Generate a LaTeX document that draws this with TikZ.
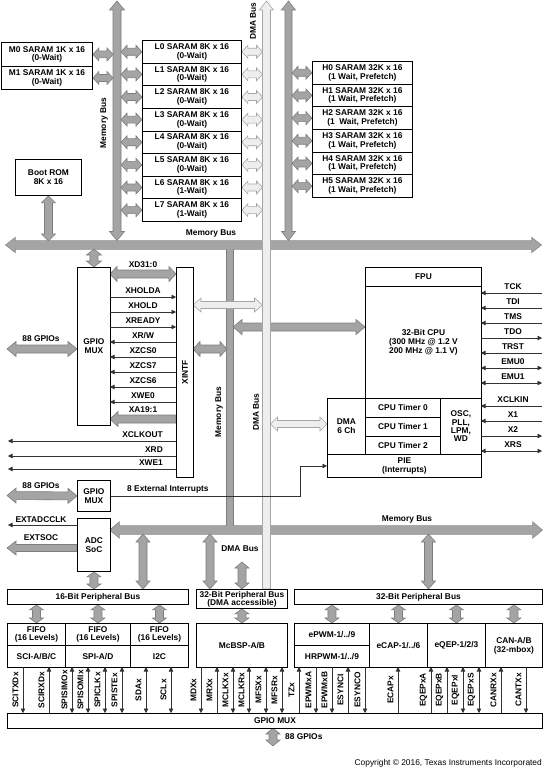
\documentclass[tikz,border=0pt]{standalone}
\usepackage{fontspec}
\setmainfont{Liberation Sans}
\usetikzlibrary{calc,arrows.meta}
\pgfdeclarelayer{back}
\pgfdeclarelayer{bg}
\pgfsetlayers{back,bg,main}
\definecolor{busfill}{HTML}{A4A4A4}
\definecolor{busedge}{HTML}{7E7E7E}
\definecolor{dmafill}{HTML}{EEEEEE}
\definecolor{dmaedge}{HTML}{A6A6A6}
\newcommand\fs{\fontsize{8.4}{8.8}\selectfont\bfseries}
% double-headed bus arrow: options, start, end, shaft half width, head half width, head length
\newcommand\DArrow[6]{%
 \path[#1] let \p1=#2, \p2=#3, \n1={atan2(\y2-\y1,\x2-\x1)} in
 (\p1) -- ($(\p1)+(\n1:#6bp)+(\n1+90:#5bp)$) -- ($(\p1)+(\n1:#6bp)+(\n1+90:#4bp)$)
 -- ($(\p2)+(\n1:-#6bp)+(\n1+90:#4bp)$) -- ($(\p2)+(\n1:-#6bp)+(\n1+90:#5bp)$) -- (\p2)
 -- ($(\p2)+(\n1:-#6bp)+(\n1-90:#5bp)$) -- ($(\p2)+(\n1:-#6bp)+(\n1-90:#4bp)$)
 -- ($(\p1)+(\n1:#6bp)+(\n1-90:#4bp)$) -- ($(\p1)+(\n1:#6bp)+(\n1-90:#5bp)$) -- cycle;}
% single-headed bus arrow (head at end)
\newcommand\SArrow[6]{%
 \path[#1] let \p1=#2, \p2=#3, \n1={atan2(\y2-\y1,\x2-\x1)} in
 ($(\p1)+(\n1+90:#4bp)$) -- ($(\p2)+(\n1:-#6bp)+(\n1+90:#4bp)$) -- ($(\p2)+(\n1:-#6bp)+(\n1+90:#5bp)$) -- (\p2)
 -- ($(\p2)+(\n1:-#6bp)+(\n1-90:#5bp)$) -- ($(\p2)+(\n1:-#6bp)+(\n1-90:#4bp)$) -- ($(\p1)+(\n1-90:#4bp)$) -- cycle;}
\newcommand\bx[7][]{\node[box,anchor=north west,minimum width={(#5-#3)*1bp},minimum height={(#6-#4)*1bp},#1] (#2) at (#3,#4) {#7};}
\newcommand\joinedbus[1]{%
 \DArrow{#1}{(6,245)}{(541,245)}{4}{7}{9}
 \path[#1] (227,245) rectangle (233,530);
 \DArrow{#1}{(110,530)}{(542,530)}{4}{7.5}{9}}
\newcommand\xsig[4]{\draw[sig,#3] (110,#1) -- (176,#1); \node[lab] (#4) at (143,#1-6.5) {#2};}
\newcommand\csig[4]{\draw[sig,#3] (481,#1) -- (542,#1); \node[lab] (#4) at (513,#1-6.5) {#2};}
\begin{document}
\begin{tikzpicture}[x=1bp,y=-1bp,>={Triangle[width=4.5bp,length=4.5bp]},
  gbus/.style={fill=busfill,draw=busedge,line width=0.6bp},
  gout/.style={draw=busedge,line width=1.2bp},
  gin/.style={fill=busfill},
  lbus/.style={fill=dmafill,draw=dmaedge,line width=0.6bp},
  box/.style={draw=black,line width=0.9bp,fill=white,inner sep=0pt,align=center,font=\fs},
  lab/.style={inner sep=0pt,align=center,font=\fs},
  vlab/.style={lab,rotate=90},
  sig/.style={draw=black!80,line width=0.6bp}]
\useasboundingbox (0,0) rectangle (543,768);
\begin{pgfonlayer}{back}
\fill[white] (0,0) rectangle (543,768);
\end{pgfonlayer}
% bus reference coordinates
\coordinate (LMBl) at (113,0); \coordinate (LMBr) at (121,0);
\coordinate (HMBr) at (292,0);
\coordinate (DMBl) at (262.5,0); \coordinate (DMBr) at (270.5,0);
\coordinate (TBt) at (0,241); \coordinate (TBb) at (0,249);
% ---------------- boxes ----------------
\bx{M0}{1}{42}{92}{66}{M0 SARAM 1K x 16\\(0-Wait)}
\bx{M1}{1}{66}{92}{89}{M1 SARAM 1K x 16\\(0-Wait)}
\foreach \k/\w in {0/0,1/0,2/0,3/0,4/0,5/0,6/1,7/1}{
  \pgfmathsetmacro\ya{40+\k*22.625}\pgfmathsetmacro\yb{40+(\k+1)*22.625}
  \bx{L\k}{142}{\ya}{241}{\yb}{L\k\ SARAM 8K x 16\\(\w-Wait)}
}
\foreach \k in {0,...,5}{
  \pgfmathsetmacro\ya{61+\k*22.667}\pgfmathsetmacro\yb{61+(\k+1)*22.667}
  \bx{H\k}{312}{\ya}{412}{\yb}{H\k\ SARAM 32K x 16\\\ifnum\k=2 (1\ \ Wait, Prefetch)\else(1 Wait, Prefetch)\fi}
}
\bx{BROM}{15}{159}{81}{195}{Boot ROM\\8K x 16}
\bx{GM1}{77}{267}{110}{425}{GPIO\\MUX}
\bx{XINTF}{176}{267}{193}{477}{}
\node[vlab] (XINTFl) at (XINTF.center) {XINTF};
\bx{FPU}{365}{267}{481}{286}{FPU}
\bx{CPU}{365}{286}{481}{398}{32-Bit CPU\\(300 MHz @ 1.2 V\\200 MHz @ 1.1 V)}
\bx{DMA}{327}{398}{365}{454}{DMA\\6 Ch}
\bx{T0}{365}{398}{440}{417}{CPU Timer 0}
\bx{T1}{365}{417}{440}{436}{CPU Timer 1}
\bx{T2}{365}{436}{440}{454}{CPU Timer 2}
\bx[font={\fontsize{8.4}{8.4}\selectfont\bfseries}]{OSC}{440}{398}{481}{454}{OSC,\\PLL,\\LPM,\\WD}
\bx{PIE}{327}{454}{481}{477}{PIE\\(Interrupts)}
\bx{GM2}{77}{480}{110}{511}{GPIO\\MUX}
\bx{ADC}{77}{518}{110}{571}{ADC\\SoC}
\bx{PB16}{7}{589}{188}{604}{16-Bit Peripheral Bus}
\bx[font={\fontsize{8.4}{8}\selectfont\bfseries}]{PB32D}{196}{589}{287}{608}{32-Bit Peripheral Bus\\(DMA accessible)}
\bx{PB32}{294}{589}{542}{604}{32-Bit Peripheral Bus}
\bx{F1}{7}{623}{65}{645}{FIFO\\(16 Levels)}
\bx{SCI}{7}{645}{65}{667}{SCI-A/B/C}
\bx{F2}{65}{623}{130}{645}{FIFO\\(16 Levels)}
\bx{SPI}{65}{645}{130}{667}{SPI-A/D}
\bx{F3}{130}{623}{188}{645}{FIFO\\(16 Levels)}
\bx{I2C}{130}{645}{188}{667}{I2C}
\bx{MCBSP}{196}{623}{287}{667}{McBSP-A/B}
\bx{EPWM}{294}{623}{369}{645}{ePWM-1/../9}
\bx{HRPWM}{294}{645}{369}{667}{HRPWM-1/../9}
\bx{ECAP}{369}{623}{427}{667}{eCAP-1/../6}
\bx{EQEP}{427}{623}{485}{667}{eQEP-1/2/3}
\bx{CAN}{485}{623}{542}{667}{CAN-A/B\\(32-mbox)}
\bx{GMB}{7}{713}{542}{728}{GPIO MUX}
% ---------------- buses ----------------
\begin{pgfonlayer}{bg}
\joinedbus{gout}
\joinedbus{gin}
\DArrow{gbus}{(117,1)}{(117,240.5)}{4}{7.5}{9}
\DArrow{gbus}{(288.5,1)}{(288.5,240.5)}{3.5}{7}{9}
\DArrow{gbus}{(M0.east)}{(M0.east -| LMBl)}{3.5}{6.5}{6}
\DArrow{gbus}{(M1.east)}{(M1.east -| LMBl)}{3.5}{6.5}{6}
\foreach \k in {0,...,7}{\DArrow{gbus}{(L\k.west -| LMBr)}{(L\k.west)}{3.5}{6.5}{6}}
\foreach \k in {0,...,5}{\DArrow{gbus}{(H\k.west -| HMBr)}{(H\k.west)}{3.5}{6.5}{6}}
\DArrow{gbus}{(BROM.south)}{(BROM.south |- TBt)}{4}{7}{7}
\DArrow{gbus}{(GM1.north |- TBb)}{(GM1.north)}{4}{7.5}{6}
\DArrow{gbus}{(110,274)}{(176,274)}{4}{7.5}{7}
\SArrow{gbus}{(176,419)}{(110,419)}{4}{7.5}{8}
\DArrow{gbus}{(7,349)}{(77,349)}{4}{7.5}{9}
\DArrow{gbus}{(193,349)}{(227,349)}{4}{7.5}{7}
\DArrow{gbus}{(233,327)}{(365,327)}{4}{7.5}{9}
\DArrow{gbus}{(7,495.5)}{(GM2.west)}{4}{7.5}{9}
\SArrow{gbus}{(77,548)}{(7,548)}{3.5}{7}{9}
\DArrow{gbus}{(ADC.south)}{(ADC.south |- PB16.north)}{4}{7}{5}
\DArrow{gbus}{(143,534)}{(143,589)}{4}{7}{8}
\DArrow{gbus}{(210,534)}{(210,589)}{4}{7}{8}
\DArrow{gbus}{(242,562)}{(242,589)}{4}{7}{6}
\DArrow{gbus}{(428.5,534)}{(428.5,589)}{4}{7}{8}
\foreach \q in {F1,F2,F3}{\DArrow{gbus}{(\q.north |- PB16.south)}{(\q.north)}{4}{7}{5}}
\DArrow{gbus}{(MCBSP.north |- PB32D.south)}{(MCBSP.north)}{4}{7}{5}
\foreach \q in {EPWM,ECAP,EQEP,CAN}{\DArrow{gbus}{(\q.north |- PB32.south)}{(\q.north)}{4}{7}{5}}
\DArrow{gbus}{(273,728)}{(273,746)}{4}{7}{6}
% DMA bus (light)
\SArrow{lbus}{(266.5,589)}{(266.5,1)}{4}{7}{9}
\foreach \k in {0,...,7}{\DArrow{lbus}{(L\k.east)}{(L\k.east -| DMBl)}{3.5}{6.5}{6}}
\DArrow{lbus}{(193,305)}{(262.5,305)}{3.5}{7}{8}
\DArrow{lbus}{(270.5,424)}{(327,424)}{3.5}{7}{7}
\end{pgfonlayer}
% ---------------- signals ----------------
\xsig{297}{XHOLDA}{->}{sXHOLDA}
\xsig{312}{XHOLD}{->}{sXHOLD}
\xsig{327}{XREADY}{->}{sXREADY}
\xsig{342}{XR/W}{<-}{sXRW}
\xsig{357}{XZCS0}{<-}{sXZCS0}
\xsig{372}{XZCS7}{<-}{sXZCS7}
\xsig{387}{XZCS6}{<-}{sXZCS6}
\xsig{402}{XWE0}{<-}{sXWE0}
\node[lab] (sXD) at (143,265) {XD31:0};
\node[lab] (sXA) at (143,410) {XA19:1};
\draw[sig,->] (176,441) -- (8,441); \node[lab,anchor=east] (sXCLKOUT) at (163,435) {XCLKOUT};
\draw[sig,->] (176,456) -- (8,456); \node[lab,anchor=east] (sXRD) at (163,450) {XRD};
\draw[sig,->] (176,469) -- (8,469); \node[lab,anchor=east] (sXWE1) at (163,463) {XWE1};
\csig{293}{TCK}{<-}{cTCK}
\csig{308}{TDI}{<-}{cTDI}
\csig{323}{TMS}{<-}{cTMS}
\csig{338}{TDO}{->}{cTDO}
\csig{353}{TRST}{<-}{cTRST}
\csig{368}{EMU0}{<->}{cEMU0}
\csig{383}{EMU1}{<->}{cEMU1}
\csig{406}{XCLKIN}{<-}{cXCLKIN}
\csig{421}{X1}{<-}{cX1}
\csig{436}{X2}{->}{cX2}
\csig{451}{XRS}{<->}{cXRS}
\draw[sig,->] (GM2.east) -| ($(PIE.west)+(-27,0)$) -- (PIE.west);
\node[lab,anchor=west] (ext) at (127,489) {8 External Interrupts};
\draw[sig,->] (77,525) -- (8,525);
\node[lab] (lEXTADC) at (41,520) {EXTADCCLK};
\node[lab] (lEXTSOC) at (41,538) {EXTSOC};
\node[lab] (lg1) at (41,339) {88 GPIOs};
\node[lab] (lg2) at (41,486) {88 GPIOs};
\node[lab,anchor=west] (lg3) at (285,737) {88 GPIOs};
% bottom peripheral signals
\foreach \sx/\t [count=\i] in {23/SCITXDx,201/MDXx,316/EPWMxA,332/EPWMxB,365/ESYNCO,526/CANTXx}{
  \draw[sig,->] (\sx,667) -- (\sx,713); \node[vlab] (bd\i) at (\sx-7.5,690) {\t};}
\foreach \sx/\t [count=\i] in {49/SCIRXDx,217/MRXx,299/TZx,348/ESYNCI,398/ECAPx,431/EQEPxA,447/EQEPxB,501/CANRXx}{
  \draw[sig,<-] (\sx,667) -- (\sx,713); \node[vlab] (bu\i) at (\sx-7.5,690) {\t};}
\foreach \sx/\t [count=\i] in {72/SPISIMOx,88/SPISOMIx,105/SPICLKx,122/SPISTEx,146/SDAx,171/SCLx,233/MCLKXx,249/MCLKRx,266/MFSXx,282/MFSRx,463/EQEPxI,479/EQEPxS}{
  \draw[sig,<->] (\sx,667) -- (\sx,713); \node[vlab] (bb\i) at (\sx-7.5,690) {\t};}
% bus labels
\node[lab] (mb1) at (211,233) {Memory Bus};
\node[vlab] (mb2) at (104,123) {Memory Bus};
\node[vlab] (db1) at (253,21) {DMA Bus};
\node[vlab] (mb3) at (219,412) {Memory Bus};
\node[vlab] (db2) at (256,412) {DMA Bus};
\node[lab] (mb4) at (407,519) {Memory Bus};
\node[lab] (db3) at (240,549) {DMA Bus};
\node[inner sep=0pt,anchor=east,font={\fontsize{8.4}{9}\selectfont}] (copy) at (542,763) {Copyright © 2016, Texas Instruments Incorporated};
\end{tikzpicture}
\end{document}
